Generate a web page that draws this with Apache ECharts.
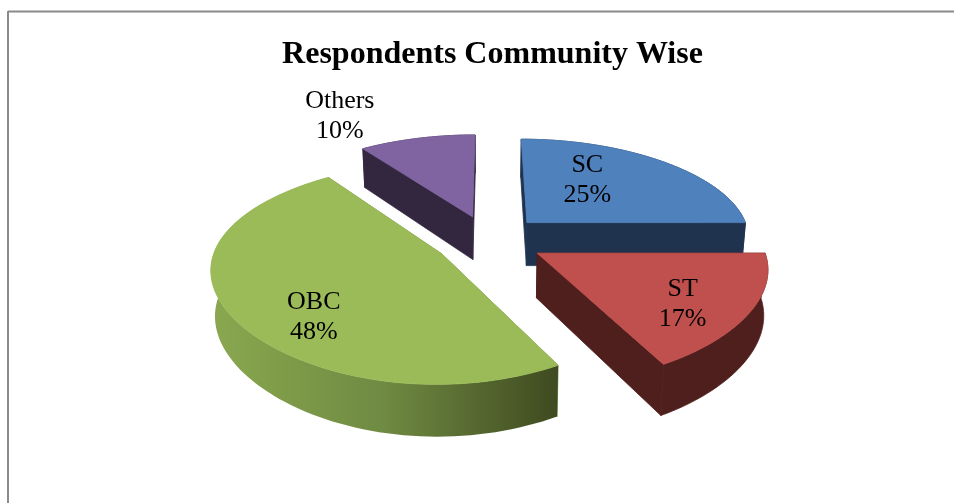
<!DOCTYPE html>
<html>
<head>
<meta charset="utf-8">
<style>html,body{margin:0;padding:0;background:#fff}#chart{width:954px;height:503px}</style>
<script src="https://cdn.jsdelivr.net/npm/echarts@6/dist/echarts.min.js"></script>
</head>
<body>
<div id="chart"></div>
<script>
// Survey shares by community, in clockwise order from twelve o'clock
const categories = ['SC', 'ST', 'OBC', 'Others'];
const shares = [25, 17, 48, 10];
const topColors = ['#4f81bd', '#c0504d', '#9bbb59', '#8064a2'];
const wallColors = ['#1f334f', '#4f1f1d', null, '#32273f'];
const greenWallStops = ['#8aa84f', '#6f8a42', '#3f4a20'];

// Back-to-front painting sequence for the exploded slices
const paintOrder = [3, 0, 2, 1];

// Label placement: distance as a fraction of the radius, and bearing in degrees
const labelReach = [0.586, 0.73, 0.727, 1.527];
const labelBearing = [32.2, 125.5, 225, 329.2];

// Projection of the tilted disc
const centerX = 489, centerY = 240;
const radius = 224, explode = 55;
const tilt = 0.46, perspective = 0.17, thickness = 44, floorShrink = 0.985;
const sideTermA = 0.14, sideTermB = 0.03, labelDrop = 2;

const total = shares.reduce((a, b) => a + b, 0);
const startAngles = shares.map((_, i) =>
  shares.slice(0, i).reduce((a, b) => a + b, 0) / total * 360);

const rad = d => d * Math.PI / 180;

// Ground-plane coordinates to screen pixels; lower=true gives the underside
function project(x, y, lower) {
  const t = y / radius;
  const w = 1 + perspective * t;
  const wx = 1 + sideTermA * t + sideTermB * t * t;
  const s = lower ? floorShrink : 1;
  return [
    centerX + x / wx * s,
    centerY - tilt * y / w * s + (lower ? thickness / w : 0)
  ];
}

function renderSlice(params, api) {
  const i = api.value(0);
  const sweep = api.value(1) / total * 360;
  const a0 = startAngles[i], a1 = a0 + sweep, mid = a0 + sweep / 2;
  const ox = explode * Math.sin(rad(mid)), oy = explode * Math.cos(rad(mid));

  const arc = [];
  for (let k = 0; k <= 90; k++) {
    const a = rad(a0 + (a1 - a0) * k / 90);
    arc.push([ox + radius * Math.sin(a), oy + radius * Math.cos(a)]);
  }
  const top = p => project(p[0], p[1], false);
  const low = p => project(p[0], p[1], true);
  const apex = [ox, oy];
  const first = arc[0], last = arc[arc.length - 1];

  const wallFill = wallColors[i] || new echarts.graphic.LinearGradient(0, 0, 1, 0, [
    { offset: 0, color: greenWallStops[0] },
    { offset: 0.5, color: greenWallStops[1] },
    { offset: 1, color: greenWallStops[2] }
  ]);
  const flat = wallColors[i] || greenWallStops[1];
  // Walls carry a thin same-colour stroke so neighbouring facets leave no seam
  const wall = (pts, fill, edge) => ({
    type: 'polygon', shape: { points: pts },
    style: { fill: fill, stroke: edge, lineWidth: edge ? 0.8 : 0 }
  });

  const rimPts = arc.map(top).concat(arc.slice().reverse().map(low));
  const pct = Math.round(api.value(1) / total * 100) + '%';
  const lr = labelReach[i] * radius, lb = rad(labelBearing[i]);
  const lp = project(ox + lr * Math.sin(lb), oy + lr * Math.cos(lb), false);

  return {
    type: 'group',
    children: [
      wall([top(apex), top(first), low(first), low(apex)], flat, flat),
      wall([top(apex), top(last), low(last), low(apex)], flat, flat),
      wall(rimPts, wallFill, wallColors[i]),
      wall([top(apex)].concat(arc.map(top)), topColors[i], topColors[i]),
      {
        type: 'text',
        style: {
          x: lp[0], y: lp[1] + labelDrop,
          text: categories[i] + '\n' + pct,
          fontFamily: '"Liberation Serif", serif',
          fontSize: 26,
          lineHeight: 30,
          fill: '#000',
          align: 'center',
          verticalAlign: 'middle'
        }
      }
    ]
  };
}

const chart = echarts.init(document.getElementById('chart'), null, { renderer: 'canvas' });
chart.setOption({
  animation: false,
  backgroundColor: '#fff',
  title: {
    text: 'Respondents Community Wise',
    left: 487.5, top: 34, textAlign: 'center',
    textStyle: { fontFamily: '"Liberation Serif", serif', fontWeight: 'bold', fontSize: 32, color: '#000' }
  },
  graphic: [
    { type: 'line', shape: { x1: 8, y1: 11.5, x2: 954, y2: 11.5 }, style: { stroke: '#8a8a8a', lineWidth: 2 } },
    { type: 'line', shape: { x1: 8, y1: 11, x2: 8, y2: 503 }, style: { stroke: '#8a8a8a', lineWidth: 2 } }
  ],
  series: [{
    type: 'custom',
    coordinateSystem: 'none',
    renderItem: renderSlice,
    data: paintOrder.map(i => ({ name: categories[i], value: [i, shares[i]] }))
  }]
});
</script>
</body>
</html>
